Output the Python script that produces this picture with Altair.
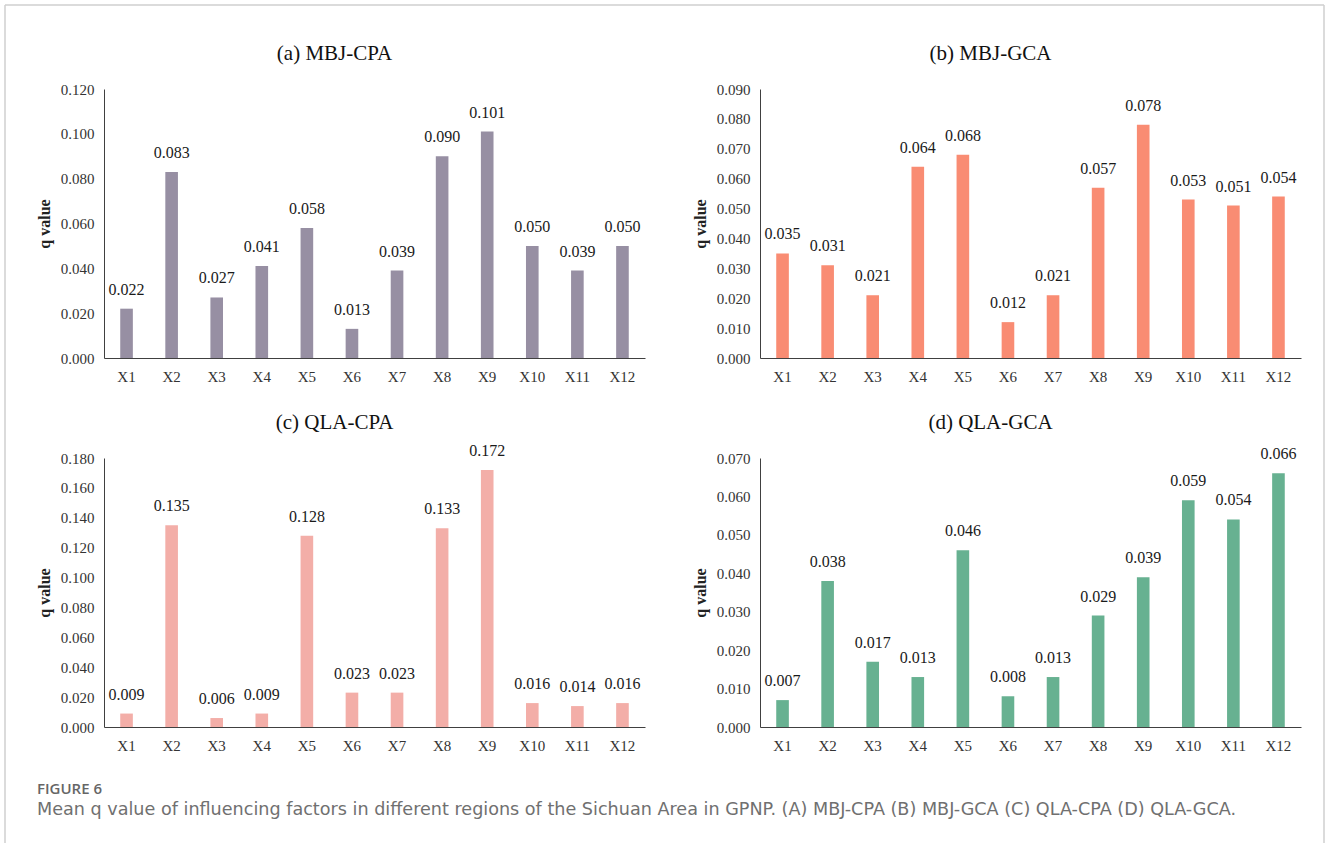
import altair as alt
import pandas as pd

SERIF = "Liberation Serif"
SANS = "DejaVu Sans"

factors = ["X1", "X2", "X3", "X4", "X5", "X6", "X7", "X8", "X9", "X10", "X11", "X12"]

mbj_cpa = [0.022, 0.083, 0.027, 0.041, 0.058, 0.013, 0.039, 0.090, 0.101, 0.050, 0.039, 0.050]
mbj_gca = [0.035, 0.031, 0.021, 0.064, 0.068, 0.012, 0.021, 0.057, 0.078, 0.053, 0.051, 0.054]
qla_cpa = [0.009, 0.135, 0.006, 0.009, 0.128, 0.023, 0.023, 0.133, 0.172, 0.016, 0.014, 0.016]
qla_gca = [0.007, 0.038, 0.017, 0.013, 0.046, 0.008, 0.013, 0.029, 0.039, 0.059, 0.054, 0.066]

titles = ["(a) MBJ-CPA", "(b) MBJ-GCA", "(c) QLA-CPA", "(d) QLA-GCA"]
y_ticks_a = [0.000, 0.020, 0.040, 0.060, 0.080, 0.100, 0.120]
y_ticks_b = [0.000, 0.010, 0.020, 0.030, 0.040, 0.050, 0.060, 0.070, 0.080, 0.090]
y_ticks_c = [0.000, 0.020, 0.040, 0.060, 0.080, 0.100, 0.120, 0.140, 0.160, 0.180]
y_ticks_d = [0.000, 0.010, 0.020, 0.030, 0.040, 0.050, 0.060, 0.070]

fig_label = "FIGURE 6"
caption = ("Mean q value of influencing factors in different regions of the Sichuan Area in GPNP. "
           "(A) MBJ-CPA (B) MBJ-GCA (C) QLA-CPA (D) QLA-GCA.")

PANEL_W = 541
PANEL_H = 269

one = pd.DataFrame({"k": [0]})


def panel(title, values, color, ticks, extra=None):
    df = pd.DataFrame({"factor": factors, "q": values})
    x = alt.X(
        "factor:N", sort=factors, title=None,
        scale=alt.Scale(paddingInner=0.72, paddingOuter=0.36),
        axis=alt.Axis(labelAngle=0, ticks=False, tickSize=0, labelPadding=11),
    )
    y = alt.Y(
        "q:Q", title="q value",
        scale=alt.Scale(domain=[ticks[0], ticks[-1]], nice=False),
        axis=alt.Axis(values=ticks, format=".3f", ticks=False, tickSize=0,
                      labelPadding=10, titlePadding=8),
    )
    base = alt.Chart(df).encode(x=x, y=y)
    bars = base.mark_bar(color=color)
    labels = base.mark_text(
        baseline="bottom", dy=-11, fontSize=16, font=SERIF, color="#1a1a1a"
    ).encode(text=alt.Text("q:Q", format=".3f"))
    # panel heading, centred a little left of the plot centre
    heading = alt.Chart(one).mark_text(
        align="center", baseline="middle", fontSize=21, font=SERIF, color="#111111"
    ).encode(x=alt.value(PANEL_W / 2 - 40), y=alt.value(-35), text=alt.value(title))
    layers = [bars, labels, heading] + (extra or [])
    return alt.layer(*layers).properties(width=PANEL_W, height=PANEL_H)


# frame lines and caption, positioned relative to the first panel's plot area
frame_color = "#cfcfcf"
top_line = alt.Chart(one).mark_rule(color=frame_color, strokeWidth=1.5).encode(
    x=alt.value(-99), x2=alt.value(1220), y=alt.value(-84))
left_line = alt.Chart(one).mark_rule(color=frame_color, strokeWidth=1.5).encode(
    x=alt.value(-99), y=alt.value(-84), y2=alt.value(754))
right_line = alt.Chart(one).mark_rule(color=frame_color, strokeWidth=1.5).encode(
    x=alt.value(1220), y=alt.value(-84), y2=alt.value(754))
fig_text = alt.Chart(one).mark_text(
    align="left", baseline="middle", font="Open Sans", fontSize=15, fontWeight=600,
    color="#666666"
).encode(x=alt.value(-67), y=alt.value(700), text=alt.value(fig_label))
cap_text = alt.Chart(one).mark_text(
    align="left", baseline="middle", font=SANS, fontSize=17.6, color="#707070"
).encode(x=alt.value(-67), y=alt.value(721), text=alt.value(caption))

a = panel(titles[0], mbj_cpa, "#978fa3", y_ticks_a,
          extra=[top_line, left_line, right_line, fig_text, cap_text])
b = panel(titles[1], mbj_gca, "#f98c73", y_ticks_b)
c = panel(titles[2], qla_cpa, "#f3aea8", y_ticks_c)
d = panel(titles[3], qla_gca, "#67b191", y_ticks_d)

chart = alt.concat(
    a, b, c, d, columns=2,
    spacing={"row": 100, "column": 115}, bounds="flush",
).properties(
    padding={"left": 4, "top": 4, "right": 0, "bottom": 0}, background="white"
).configure_view(
    stroke=None
).configure_axis(
    grid=False,
    labelFont=SERIF, labelFontSize=15, labelColor="#333333",
    titleFont=SERIF, titleFontSize=16, titleFontWeight="bold", titleColor="#222222",
    domainColor="#404040", domainWidth=1,
)

chart.save("out.html", embed_options={"renderer": "svg", "actions": False})
